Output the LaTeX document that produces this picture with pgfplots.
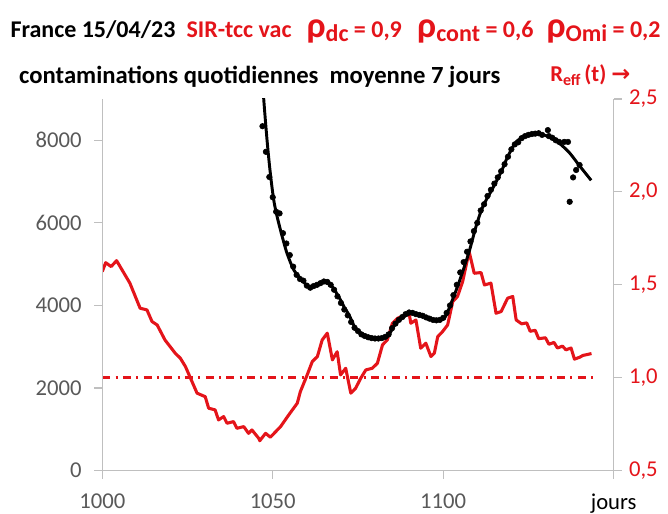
\documentclass[border=0pt]{standalone}
\usepackage{pgfplots}
\pgfplotsset{compat=1.18}
\usepackage{fontspec}
\setmainfont{Carlito}
\newfontfamily\dejavu{DejaVu Sans}
\definecolor{myred}{RGB}{228,20,26}
\definecolor{tickgray}{RGB}{89,89,89}
\definecolor{axgray}{RGB}{191,191,191}
\begin{document}
\begin{tikzpicture}
\pgfplotsset{
  common/.style={
    at={(0,0)}, anchor=south west,
    width=383.55pt, height=278.8pt, scale only axis,
    xmin=1000, xmax=1150,
    tick align=outside, major tick length=6pt,
    tick style={axgray, line width=0.9pt},
    axis line style={axgray, line width=1pt, -},
    ticklabel style={font=\fontsize{17}{17}\selectfont},
    /pgf/number format/assume math mode=true,
    clip=true,
  }
}
% right axis (R_eff)
\begin{axis}[common,
  ymin=0.5, ymax=2.5,
  axis y line*=right, axis x line=none,
  ytick={0.5,1,1.5,2,2.5},
  yticklabel style={color=myred, xshift=2pt},
  /pgf/number format/.cd, use comma, fixed, fixed zerofill, precision=1,
]
\addplot[myred, line width=2.3pt, line join=round] coordinates {
(1000,1.571) (1001.0,1.619) (1002.6,1.598) (1004.2,1.630) (1008.1,1.509)
(1011.1,1.374) (1013.1,1.365) (1014.6,1.302) (1016.1,1.284) (1018.4,1.203)
(1021.4,1.132) (1022.9,1.105) (1024.4,1.060) (1025.9,0.997) (1027.8,0.917)
(1030.2,0.898) (1031.2,0.836) (1033.1,0.827) (1034.1,0.773) (1035.6,0.791)
(1036.6,0.755) (1038.5,0.764) (1039.5,0.728) (1041.5,0.737) (1042.9,0.701)
(1043.9,0.719) (1045.9,0.674) (1046.2,0.661) (1047.9,0.701) (1049.3,0.680)
(1052.3,0.737) (1054.7,0.800) (1057.2,0.863) (1058.1,0.925) (1060.1,1.015)
(1061.6,1.087) (1063.1,1.114) (1064.5,1.203) (1066.0,1.240) (1067.5,1.096)
(1068.9,1.140) (1069.9,1.015) (1071.4,1.051) (1072.9,0.917) (1074.3,0.943)
(1075.8,0.997) (1077.3,1.042) (1079.2,1.051) (1080.7,1.078) (1082.2,1.177)
(1083.6,1.203) (1085.1,1.293) (1086.6,1.320) (1089.0,1.338) (1090.0,1.347)
(1090.5,1.293) (1092.0,1.311) (1093.4,1.159) (1094.9,1.186) (1096.4,1.114)
(1097.4,1.132) (1098.4,1.221) (1099.8,1.248) (1101.3,1.284) (1102.8,1.410)
(1104.2,1.437) (1105.7,1.517) (1107.6,1.679) (1109.1,1.562) (1111.1,1.566)
(1112.1,1.499) (1114.0,1.509) (1115.5,1.347) (1117.0,1.356) (1118.9,1.428)
(1120.4,1.437) (1121.4,1.311) (1123.0,1.290) (1124.5,1.295) (1125.5,1.250)
(1127.0,1.255) (1128.0,1.210) (1130.0,1.215) (1131.0,1.180) (1132.5,1.190)
(1133.5,1.160) (1135.0,1.170) (1136.0,1.150) (1137.5,1.160) (1138.5,1.100)
(1140.0,1.110) (1141.0,1.120) (1143.5,1.130)
};
\addplot[myred, line width=2.3pt, dash pattern=on 6pt off 4pt on 1.5pt off 4pt] coordinates {
(1000,1.0) (1144,1.0)
};
\end{axis}
% left axis (contaminations)
\begin{axis}[common,
  ymin=0, ymax=9000,
  axis y line*=left, axis x line*=bottom,
  xtick={1000,1050,1100,1150},
  xticklabels={1000,1050,1100,\textcolor{black}{jours}},
  ytick={0,2000,4000,6000,8000},
  ticklabel style={color=tickgray},
  yticklabel style={xshift=-6pt},
  xticklabel style={yshift=-8pt},
  /pgf/number format/set thousands separator={},
]
\addplot[black, line width=2.2pt, smooth, tension=0.5] coordinates {
(1047.0,9600) (1047.35,9011) (1048.35,7985) (1049.3,7197) (1050.3,6551)
(1051.3,6146) (1052.8,5662) (1054.2,5261) (1056.2,4857) (1058.6,4615)
(1060.6,4452) (1063.1,4511) (1065.5,4559) (1067.5,4452) (1069.9,4131)
(1070.9,3969) (1072.4,3768) (1074.3,3446) (1076.8,3284) (1080.7,3204)
(1083.6,3243) (1086.1,3567) (1088.5,3727) (1091.0,3823) (1093.4,3768)
(1097.4,3647) (1100.3,3688) (1102.3,4051) (1104.7,4574) (1107.6,5300)
(1109.6,5904) (1111.6,6388) (1114.5,6834) (1117.0,7235) (1118.9,7598)
(1121.4,7961) (1124.3,8099) (1126.8,8165) (1129.7,8123) (1131.5,8060)
(1134.0,7930) (1137.0,7700) (1140.0,7380) (1143.4,7030)
};
\addplot[only marks, mark=*, mark size=2.1pt, black] coordinates {
(1047,8340) (1048,7720) (1049,7110) (1050,6620) (1051,6270) (1052,6230)
(1053,5750) (1054,5500) (1055,5220) (1056,4940) (1057,4740) (1058,4640)
(1059,4600) (1060,4480) (1061,4430) (1062,4470) (1063,4500) (1064,4540)
(1065,4580) (1066,4570) (1067,4500) (1068,4380) (1069,4220) (1070,4060)
(1071,3900) (1072,3760) (1073,3600) (1074,3460) (1075,3380) (1076,3300)
(1077,3260) (1078,3230) (1079,3210) (1080,3200) (1081,3200) (1082,3210)
(1083,3240) (1084,3300) (1085,3450) (1086,3560) (1087,3650) (1088,3720)
(1089,3790) (1090,3830) (1091,3820) (1092,3790) (1093,3770) (1094,3750)
(1095,3710) (1096,3680) (1097,3650) (1098,3640) (1099,3650) (1100,3700)
(1101,3820) (1102,4000) (1103,4250) (1104,4500) (1105,4800) (1106,5050)
(1107,5300) (1108,5550) (1109,5800) (1110,6000) (1111,6300) (1112,6450)
(1113,6650) (1114,6800) (1115,6950) (1116,7100) (1117,7250) (1118,7420)
(1119,7600) (1120,7780) (1121,7900) (1122,7950) (1123,8050) (1124,8100)
(1125,8130) (1126,8150) (1127,8160) (1128,8170) (1129,8130) (1130.7,8245)
(1131,8100) (1132,8060) (1133,8000) (1134,7960) (1135.5,7960) (1136.6,7960)
(1137.1,6510) (1138.1,7100) (1139.0,7280) (1140.0,7400)
};
\end{axis}
% titles
\node[anchor=base west, inner sep=0pt, font=\bfseries\fontsize{18}{18}\selectfont] at (-69pt,324.7pt) {France 15/04/23};
\node[anchor=base west, inner sep=0pt, font=\bfseries\fontsize{18}{18}\selectfont, text=myred] at (63pt,324.7pt) {SIR-tcc vac};
\node[anchor=base west, inner sep=0pt, font=\bfseries\fontsize{18}{18}\selectfont, text=myred] at (153pt,324.7pt) {{\fontsize{27}{27}\selectfont ρ}\raisebox{-0.3ex}{dc} = 0,9};
\node[anchor=base west, inner sep=0pt, font=\bfseries\fontsize{18}{18}\selectfont, text=myred] at (236pt,324.7pt) {{\fontsize{27}{27}\selectfont ρ}\raisebox{-0.3ex}{cont} = 0,6};
\node[anchor=base west, inner sep=0pt, font=\bfseries\fontsize{18}{18}\selectfont, text=myred] at (333pt,324.7pt) {{\fontsize{27}{27}\selectfont ρ}\raisebox{-0.3ex}{Omi} = 0,2};
\node[anchor=base west, inner sep=0pt, font=\bfseries\fontsize{18.5}{18.5}\selectfont] at (-62.5pt,290.2pt) {contaminations quotidiennes\ \ moyenne 7 jours};
\node[anchor=base west, inner sep=0pt, font=\bfseries\fontsize{17}{17}\selectfont, text=myred] at (335.8pt,292pt) {R\raisebox{-0.35ex}{\fontsize{12}{12}\selectfont eff}\,(t) {\dejavu\bfseries →}};
\pgfresetboundingbox
\path (-76.7pt,-32.5pt) rectangle (424.3pt,353pt);
\end{tikzpicture}
\end{document}
